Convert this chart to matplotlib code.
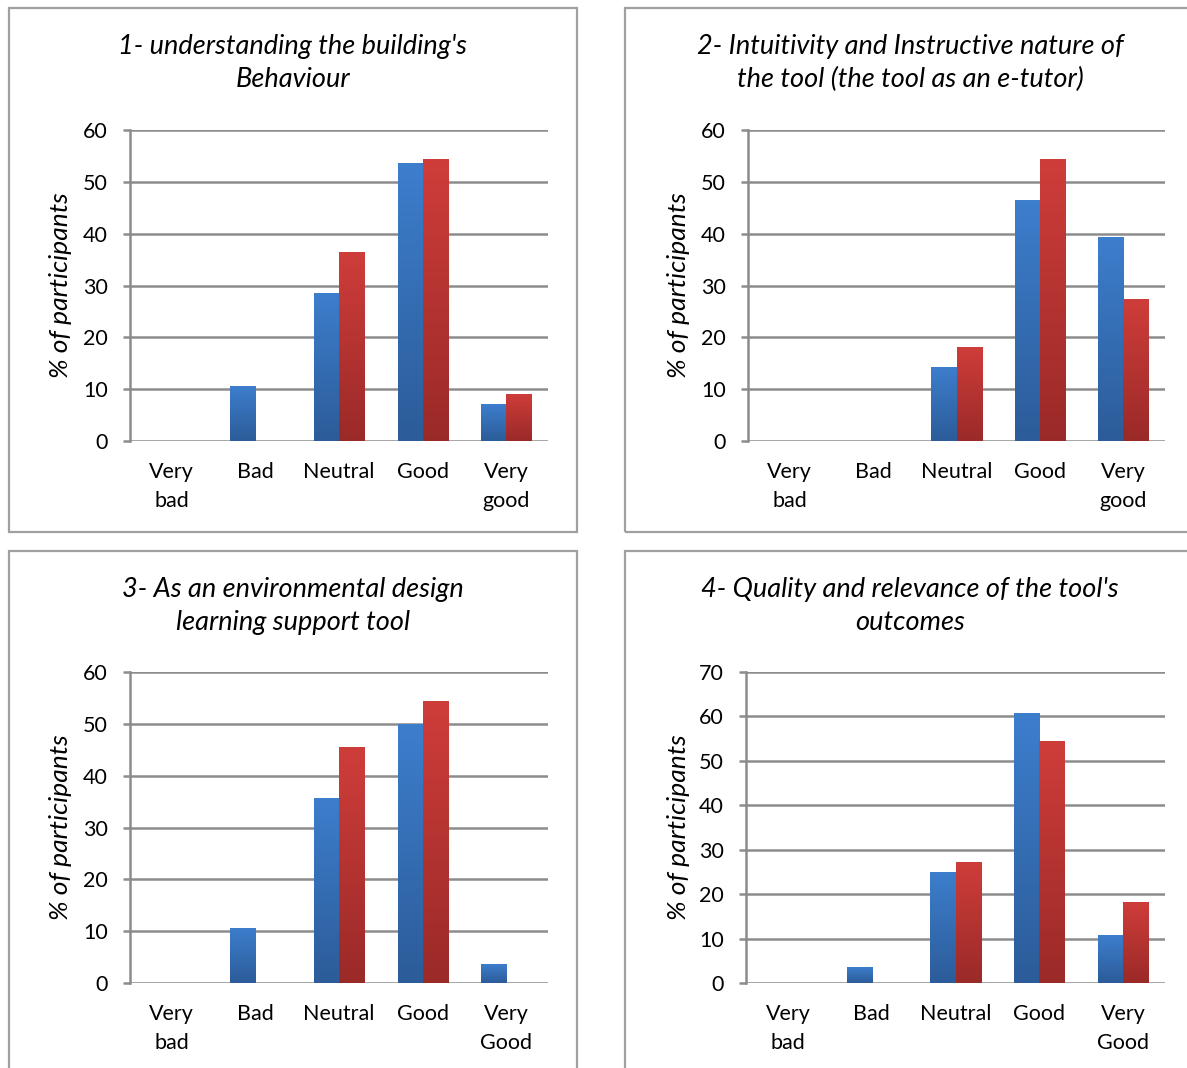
import numpy as np
import matplotlib
matplotlib.use("Agg")
import matplotlib.pyplot as plt
from matplotlib.patches import Rectangle
from matplotlib.colors import LinearSegmentedColormap

plt.rcParams['font.family'] = ['Lato', 'DejaVu Sans']

# ---------------- data ----------------
titles = [
    "1- understanding the building's\nBehaviour",
    "2- Intuitivity and Instructive nature of\nthe tool (the tool as an e-tutor)",
    "3- As an environmental design\nlearning support tool",
    "4- Quality and relevance of the tool's\noutcomes",
]
categories_a = ["Very\nbad", "Bad", "Neutral", "Good", "Very\ngood"]
categories_b = ["Very\nbad", "Bad", "Neutral", "Good", "Very\nGood"]
panel_categories = [categories_a, categories_a, categories_b, categories_b]

blue_1 = [0, 10.7, 28.6, 53.6, 7.1]
red_1 = [0, 0, 36.4, 54.5, 9.1]
blue_2 = [0, 0, 14.3, 46.4, 39.3]
red_2 = [0, 0, 18.2, 54.5, 27.3]
blue_3 = [0, 10.7, 35.7, 50.0, 3.6]
red_3 = [0, 0, 45.5, 54.5, 0]
blue_4 = [0, 3.6, 25.0, 60.7, 10.7]
red_4 = [0, 0, 27.3, 54.5, 18.2]
blue_series = [blue_1, blue_2, blue_3, blue_4]
red_series = [red_1, red_2, red_3, red_4]
y_max = [60, 60, 60, 70]
y_label = "% of participants"

# ---------------- layout (pixels) ----------------
W, H = 1187, 1068
fig = plt.figure(figsize=(W / 100, H / 100), dpi=100)

def fx(px):
    return px / W

def fy(py):
    return 1 - py / H

# panel boxes: (left, top, right, bottom)
boxes = [(9, 8, 577, 532), (625, 8, 1200, 532), (9, 551, 577, 1080), (625, 551, 1200, 1080)]
# axes: (left, top, right, bottom)
axes_px = [(130, 130, 548, 441), (748, 130, 1165, 441), (130, 672, 548, 983), (746, 672, 1165, 983)]
title_cx = [293, 910, 293, 910]
title_y = [63, 63, 606, 606]
ylabel_x = [61, 679, 61, 679]

grid_c = "#8C8C8C"
box_c = "#A0A0A0"

blue_cmap = LinearSegmentedColormap.from_list("b", ["#2C5C99", "#3D7ECD"])
red_cmap = LinearSegmentedColormap.from_list("r", ["#9A2A28", "#CF3D3A"])

for (l, t, r, b) in boxes:
    fig.patches.append(Rectangle((fx(l), fy(b)), fx(r) - fx(l), fy(t) - fy(b),
                                 transform=fig.transFigure, fill=False,
                                 edgecolor=box_c, linewidth=1.6, zorder=0))

grad = np.linspace(0, 1, 256).reshape(-1, 1)

for i in range(4):
    l, t, r, b = axes_px[i]
    ax = fig.add_axes([fx(l), fy(b), fx(r) - fx(l), fy(t) - fy(b)])
    x = np.arange(len(panel_categories[i]))
    w = 0.3
    bb = ax.bar(x - w / 2, blue_series[i], width=w, color="#3670B8", zorder=3, linewidth=0)
    rb = ax.bar(x + w / 2, red_series[i], width=w, color="#BD3532", zorder=3, linewidth=0)
    for bars, cmap in ((bb, blue_cmap), (rb, red_cmap)):
        for p in bars:
            h = p.get_height()
            if h <= 0:
                continue
            x0 = p.get_x()
            im = ax.imshow(grad, cmap=cmap, origin="lower", aspect="auto",
                           extent=(x0, x0 + p.get_width(), 0, h), zorder=4)
            im.set_clip_path(p)
    ax.set_xlim(-0.5, len(x) - 0.5)
    ax.set_ylim(0, y_max[i])
    ax.set_yticks(np.arange(0, y_max[i] + 1, 10))
    ax.set_xticks(x)
    ax.set_xticklabels(panel_categories[i], fontsize=15.5, linespacing=1.55, va="top")
    ax.yaxis.grid(True, color=grid_c, linewidth=1.8, zorder=1)
    ax.set_axisbelow(True)
    for s in ("top", "right", "bottom"):
        ax.spines[s].set_visible(False)
    ax.spines["left"].set_color(grid_c)
    ax.spines["left"].set_linewidth(1.8)
    ax.tick_params(axis="y", length=5, width=1.8, color=grid_c, labelsize=15.5, pad=11,
                   labelcolor="#000000")
    ax.tick_params(axis="x", length=0, pad=15, labelcolor="#000000")
    ax.set_facecolor("none")
    fig.text(fx(title_cx[i]), fy(title_y[i]), titles[i], ha="center", va="center",
             fontsize=19.5, style="italic", linespacing=1.42)
    fig.text(fx(ylabel_x[i]), fy((t + b) / 2), y_label, rotation=90, ha="center",
             va="center", fontsize=19, style="italic")

fig.savefig("out.png", dpi=100)
